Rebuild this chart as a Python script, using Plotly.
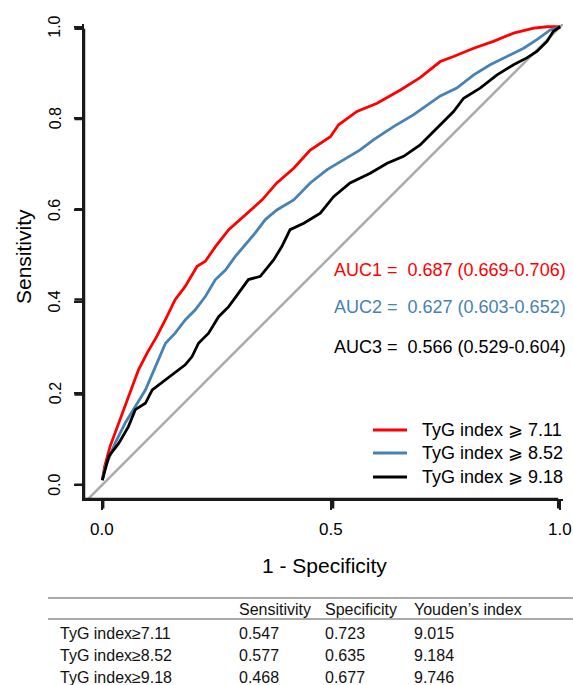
import plotly.graph_objects as go

# ---- data ----
red_x = [0.0, 0.005, 0.017, 0.039, 0.057, 0.079, 0.098, 0.119, 0.141, 0.159, 0.181, 0.207, 0.225,
         0.247, 0.276, 0.312, 0.349, 0.381, 0.418, 0.454, 0.498, 0.516, 0.556, 0.600, 0.651,
         0.694, 0.738, 0.767, 0.811, 0.854, 0.898, 0.942, 0.971, 1.0]
red_y = [0.01, 0.04, 0.084, 0.142, 0.193, 0.251, 0.288, 0.324, 0.367, 0.404, 0.433, 0.477, 0.488,
         0.520, 0.557, 0.590, 0.622, 0.659, 0.691, 0.731, 0.760, 0.786, 0.815, 0.833, 0.862,
         0.889, 0.924, 0.935, 0.953, 0.968, 0.986, 0.997, 1.0, 1.0]

blue_x = [0.0, 0.007, 0.028, 0.050, 0.072, 0.094, 0.116, 0.138, 0.159, 0.181, 0.203, 0.225, 0.247,
          0.269, 0.290, 0.312, 0.334, 0.356, 0.381, 0.418, 0.454, 0.491, 0.527, 0.563, 0.592,
          0.636, 0.680, 0.738, 0.774, 0.811, 0.847, 0.884, 0.920, 0.949, 0.978, 1.0]
blue_y = [0.01, 0.040, 0.091, 0.135, 0.171, 0.207, 0.258, 0.309, 0.331, 0.360, 0.382, 0.411, 0.448,
          0.469, 0.498, 0.524, 0.550, 0.579, 0.600, 0.622, 0.659, 0.688, 0.710, 0.731, 0.753,
          0.782, 0.808, 0.849, 0.866, 0.895, 0.917, 0.935, 0.953, 0.972, 0.993, 1.0]

black_x = [0.0, 0.014, 0.036, 0.057, 0.072, 0.094, 0.109, 0.138, 0.159, 0.181, 0.196, 0.210, 0.232,
           0.254, 0.276, 0.298, 0.319, 0.345, 0.374, 0.392, 0.410, 0.440, 0.476, 0.505, 0.541,
           0.585, 0.622, 0.658, 0.694, 0.731, 0.767, 0.789, 0.825, 0.862, 0.898, 0.927, 0.949,
           0.971, 0.985, 1.0]
black_y = [0.01, 0.062, 0.091, 0.127, 0.164, 0.178, 0.207, 0.229, 0.244, 0.262, 0.280, 0.309, 0.331,
           0.367, 0.389, 0.419, 0.448, 0.455, 0.491, 0.520, 0.557, 0.571, 0.593, 0.629, 0.659,
           0.680, 0.702, 0.717, 0.742, 0.779, 0.815, 0.844, 0.866, 0.895, 0.917, 0.932, 0.946,
           0.968, 0.990, 1.0]

series_names = ["TyG index \u2a7e 7.11", "TyG index \u2a7e 8.52", "TyG index \u2a7e 9.18"]
series_colors = ["#FF0000", "#4682B4", "#000000"]
auc_labels = ["AUC1 =\u00a0 0.687 (0.669-0.706)",
              "AUC2 =\u00a0 0.627 (0.603-0.652)",
              "AUC3 =\u00a0 0.566 (0.529-0.604)"]
auc_pos_y = [0.469, 0.389, 0.301]

x_ticks = [0.0, 0.5, 1.0]
y_ticks = [0.0, 0.2, 0.4, 0.6, 0.8, 1.0]

table_header = ["Sensitivity", "Specificity", "Youden\u2019s index"]
table_rows = ["TyG index\u22657.11", "TyG index\u22658.52", "TyG index\u22659.18"]
table_sens = ["0.547", "0.577", "0.468"]
table_spec = ["0.723", "0.635", "0.677"]
table_youden = ["9.015", "9.184", "9.746"]

# ---- layout geometry ----
W, H = 573, 685
ML, MT = 84, 24
XR = [-0.04, 1.006]
YR = [-0.031, 1.006]
PW, PH = 479, 475
MR = W - ML - PW
MB = H - MT - PH
FONT = "Liberation Sans, Arial, sans-serif"


def px(xp):
    return (xp - ML) / PW


def py(yp):
    return (MT + PH - yp) / PH


def xpaper(v):
    return (v - XR[0]) / (XR[1] - XR[0])


def ypaper(v):
    return (v - YR[0]) / (YR[1] - YR[0])


fig = go.Figure()

# diagonal reference line
fig.add_trace(go.Scatter(x=[-0.1, 1.1], y=[-0.1, 1.1], mode="lines",
                         line=dict(color="#AAAAAA", width=2.5), showlegend=False,
                         hoverinfo="skip"))

for xs, ys, nm, col in [(red_x, red_y, series_names[0], series_colors[0]),
                        (blue_x, blue_y, series_names[1], series_colors[1]),
                        (black_x, black_y, series_names[2], series_colors[2])]:
    fig.add_trace(go.Scatter(x=xs, y=ys, mode="lines", name=nm, showlegend=False,
                             line=dict(color=col, width=2.8)))

annotations = []
shapes = []
for lab, yy, col in zip(auc_labels, auc_pos_y, series_colors):
    annotations.append(dict(x=0.502, y=yy, xref="x", yref="y", text=lab, showarrow=False,
                            xanchor="left", yanchor="middle",
                            font=dict(family=FONT, size=18, color=col)))

# legend (drawn manually)
leg_y = [430, 453, 477]
for nm, col, ly in zip(series_names, series_colors, leg_y):
    shapes.append(dict(type="line", xref="paper", yref="paper", x0=px(373), x1=px(407),
                       y0=py(ly), y1=py(ly), line=dict(color=col, width=2.8)))
    annotations.append(dict(x=px(420), y=py(ly), xref="paper", yref="paper", text=nm,
                            showarrow=False, xanchor="left", yanchor="middle",
                            font=dict(family=FONT, size=18, color="#000")))

# L-shaped axes and tick marks as one path (paper coordinates, in pixels of the plot area)
def P(xv, yv):
    return "%.2f,%.2f" % (xv, yv)


top = ypaper(y_ticks[-1])
right = xpaper(x_ticks[-1])
path = "M" + P(0, top) + " L" + P(0, 0) + " L" + P(right, 0)
for v in x_ticks:
    path += " M" + P(xpaper(v), 0) + " L" + P(xpaper(v), -9.0 / PH)
for v in y_ticks:
    path += " M" + P(0, ypaper(v)) + " L" + P(-8.0 / PW, ypaper(v))
shapes.append(dict(type="path", xref="paper", yref="paper", path=path,
                   line=dict(color="#1a1a1a", width=2.5), layer="above"))

# tick labels
for v in x_ticks:
    annotations.append(dict(x=xpaper(v), y=py(529), xref="paper", yref="paper", text="%.1f" % v,
                            showarrow=False, xanchor="center", yanchor="middle",
                            font=dict(family=FONT, size=17, color="#000")))
for v in y_ticks:
    annotations.append(dict(x=px(55), y=ypaper(v), xref="paper", yref="paper", text="%.1f" % v,
                            showarrow=False, xanchor="center", yanchor="middle", textangle=-90,
                            font=dict(family=FONT, size=16, color="#000")))

# axis titles
annotations.append(dict(x=px(324), y=py(565), xref="paper", yref="paper", text="1 - Specificity",
                        showarrow=False, xanchor="center", yanchor="middle",
                        font=dict(family=FONT, size=21, color="#000")))
annotations.append(dict(x=px(23), y=py(256), xref="paper", yref="paper", text="Sensitivity",
                        showarrow=False, xanchor="center", yanchor="middle", textangle=-90,
                        font=dict(family=FONT, size=21, color="#000")))

# table
col_x = [237, 323, 412]
for cx, h in zip(col_x, table_header):
    annotations.append(dict(x=px(cx), y=py(609), xref="paper", yref="paper", text=h,
                            showarrow=False, xanchor="left", yanchor="middle",
                            font=dict(family=FONT, size=16, color="#111")))
row_y = [633, 655, 677]
for i, ry in enumerate(row_y):
    cells = [(58, table_rows[i]), (col_x[0], table_sens[i]), (col_x[1], table_spec[i]),
             (col_x[2], table_youden[i])]
    for cx, t in cells:
        annotations.append(dict(x=px(cx), y=py(ry), xref="paper", yref="paper", text=t,
                                showarrow=False, xanchor="left", yanchor="middle",
                                font=dict(family=FONT, size=16, color="#111")))

for ly in [598, 619]:
    shapes.append(dict(type="line", xref="paper", yref="paper", x0=px(48), x1=px(573),
                       y0=py(ly), y1=py(ly), line=dict(color="#AAAAAA", width=2)))

fig.update_layout(
    width=W, height=H,
    margin=dict(l=ML, r=MR, t=MT, b=MB, autoexpand=False),
    paper_bgcolor="white", plot_bgcolor="white",
    font=dict(family=FONT, color="#000000"),
    xaxis=dict(range=XR, showgrid=False, zeroline=False, showline=True, linecolor="#1a1a1a",
               linewidth=2, ticks="outside", ticklen=9, tickwidth=2, tickcolor="#1a1a1a",
               tickvals=x_ticks, showticklabels=False),
    yaxis=dict(range=YR, showgrid=False, zeroline=False, showline=True, linecolor="#1a1a1a",
               linewidth=2, ticks="outside", ticklen=8, tickwidth=2, tickcolor="#1a1a1a",
               tickvals=y_ticks, showticklabels=False),
    annotations=annotations,
    shapes=shapes,
)

fig.write_html("out.html")
